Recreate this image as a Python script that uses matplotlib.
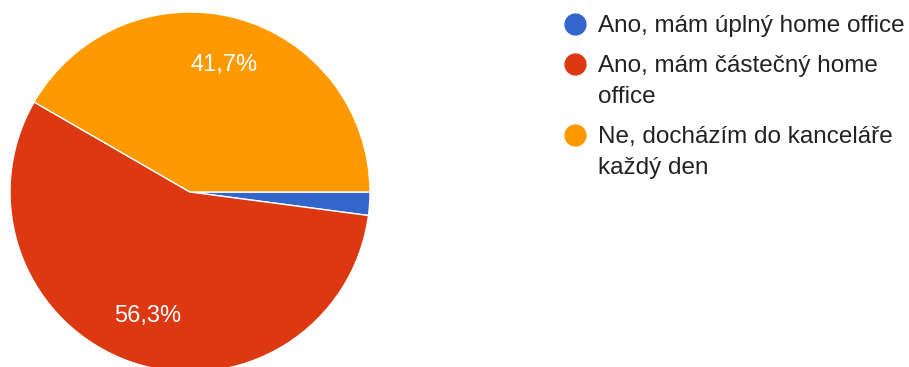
import math

import matplotlib
matplotlib.use("Agg")
import matplotlib.pyplot as plt
from matplotlib.lines import Line2D

plt.rcParams["font.family"] = ["Liberation Sans", "DejaVu Sans"]

# Data (48 responses)
labels = [
    "Ano, mám úplný home office",
    "Ano, mám částečný home\noffice",
    "Ne, docházím do kanceláře\nkaždý den",
]
counts = [1, 27, 20]
colors = ["#3366CC", "#DC3912", "#FF9900"]

W, H = 909, 367
fig = plt.figure(figsize=(W / 100, H / 100), dpi=100)

# pie: centre (190, 192) px, radius 180 px
cx, cy, r = 190, 192, 180
ax = fig.add_axes([(cx - r) / W, (H - cy - r) / H, 2 * r / W, 2 * r / H])


def fmt(p):
    # round half up, like the source (56.25 -> 56,3)
    if p <= 5:
        return ""
    v = math.floor(float(p) * 10 + 0.5 + 1e-6) / 10
    return f"{v:.1f}%".replace(".", ",")


wedges, _, autotexts = ax.pie(
    counts,
    colors=colors,
    startangle=0,
    counterclock=False,
    radius=1,
    autopct=fmt,
    pctdistance=0.73,
    wedgeprops=dict(edgecolor="white", linewidth=1),
    textprops=dict(color="white", fontsize=17),
)
ax.set_xlim(-1, 1)
ax.set_ylim(-1, 1)
ax.set_aspect("equal")
ax.axis("off")

# legend drawn by hand to match the wrapped layout
line_h = 31
gap = 9
base = 32
for lab, col in zip(labels, colors):
    lines = lab.split("\n")
    fig.add_artist(Line2D([575 / W], [1 - (base - 8.5) / H], marker="o", markersize=15,
                          color=col, transform=fig.transFigure, linestyle="none"))
    for i, ln in enumerate(lines):
        fig.text(598 / W, 1 - (base + i * line_h) / H, ln, fontsize=17.5,
                 color="#222222", va="baseline", ha="left")
    base += len(lines) * line_h + gap

fig.savefig("out.png", dpi=100)
